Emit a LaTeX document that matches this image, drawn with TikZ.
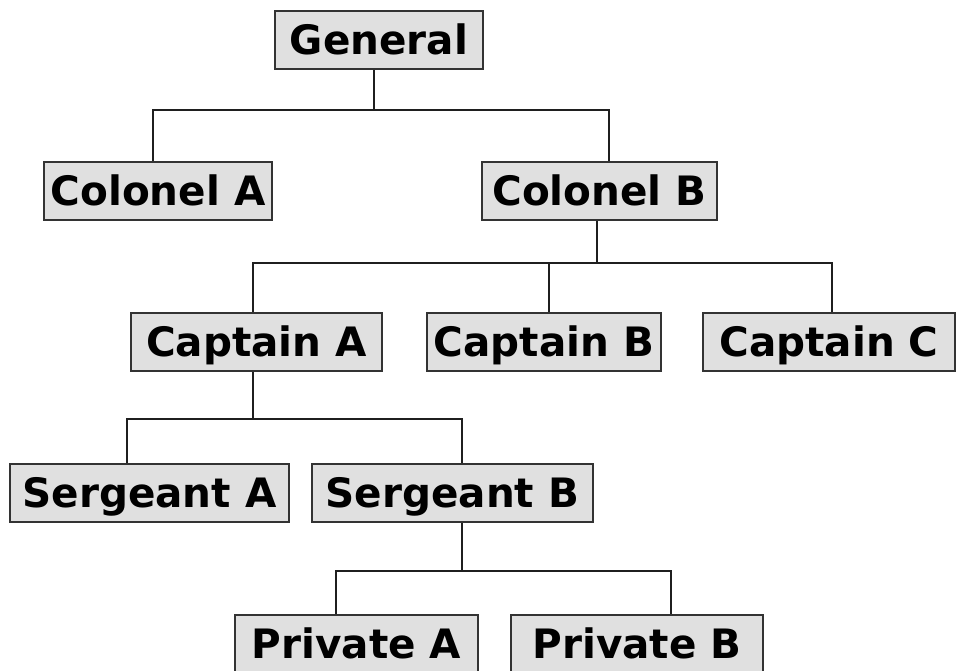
\documentclass[tikz,border=0pt]{standalone}
\usepackage{fontspec}
\setmainfont{DejaVu Sans}
\begin{document}
\begin{tikzpicture}[x=1pt,y=-1pt,
  rank/.style={draw=black!80, line width=2pt, fill=black!12, inner sep=0pt,
    minimum height=58pt, text height=29pt, text depth=0pt,
    font=\fontsize{40.5}{48}\selectfont\bfseries},
  link/.style={draw=black!88, line width=2pt}]
\useasboundingbox (0,0) rectangle (956,670);
\fill[white] (0,0) rectangle (956,670);
% nodes
\node[rank, minimum width=208pt] (gen) at (379,40) {General};
\node[rank, minimum width=228pt] (cola) at (158,191) {Colonel A};
\node[rank, minimum width=235pt] (colb) at (599.5,191) {Colonel B};
\node[rank, minimum width=251pt] (capa) at (256.5,342) {Captain A};
\node[rank, minimum width=234pt] (capb) at (544,342) {Captain B};
\node[rank, minimum width=252pt] (capc) at (829,342) {Captain C};
\node[rank, minimum width=279pt] (sgta) at (149.5,493) {Sergeant A};
\node[rank, minimum width=281pt] (sgtb) at (452.5,493) {Sergeant B};
\node[rank, minimum width=243pt] (pvta) at (356.5,644) {Private A};
\node[rank, minimum width=252pt] (pvtb) at (637,644) {Private B};
% bar levels
\coordinate (bar1) at (0,110);
\coordinate (bar2) at (0,263);
\coordinate (bar3) at (0,419);
\coordinate (bar4) at (0,571);
% connector ends
\coordinate (g0) at ([xshift=-5pt]gen.south);
\coordinate (ca0) at ([xshift=-5pt]cola.north);
\coordinate (cb0) at ([xshift=9.5pt]colb.north);
\coordinate (cb1) at ([xshift=-2.5pt]colb.south);
\coordinate (pa0) at ([xshift=-3.5pt]capa.north);
\coordinate (pb0) at ([xshift=5pt]capb.north);
\coordinate (pc0) at ([xshift=3pt]capc.north);
\coordinate (pa1) at ([xshift=-3.5pt]capa.south);
\coordinate (sa0) at ([xshift=-22.5pt]sgta.north);
\coordinate (sb0) at ([xshift=9.5pt]sgtb.north);
\coordinate (sb1) at ([xshift=9.5pt]sgtb.south);
\coordinate (va0) at ([xshift=-20.5pt]pvta.north);
\coordinate (vb0) at ([xshift=34pt]pvtb.north);
% connectors
\draw[link] (g0) -- (g0 |- bar1) -| (ca0);
\draw[link] (g0 |- bar1) -| (cb0);
\draw[link] (cb1) -- (cb1 |- bar2) -| (pa0);
\draw[link] (cb1 |- bar2) -| (pb0);
\draw[link] (cb1 |- bar2) -| (pc0);
\draw[link] (pa1) -- (pa1 |- bar3) -| (sa0);
\draw[link] (pa1 |- bar3) -| (sb0);
\draw[link] (sb1) -- (sb1 |- bar4) -| (va0);
\draw[link] (sb1 |- bar4) -| (vb0);
\end{tikzpicture}
\end{document}
